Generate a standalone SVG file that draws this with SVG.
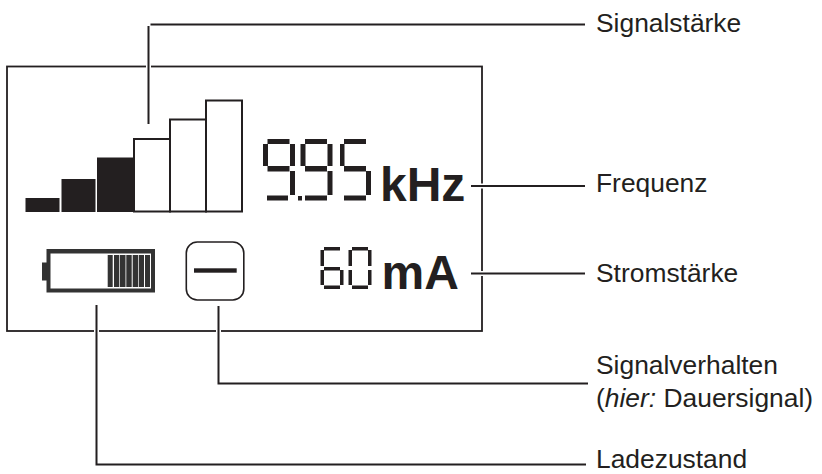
<svg xmlns="http://www.w3.org/2000/svg" width="822" height="474" viewBox="0 0 822 474">
<style>
.l{font-family:"Liberation Sans",Arial,sans-serif;font-size:26.4px;fill:#231f20}
.u{font-family:"Liberation Sans",Arial,sans-serif;font-size:48px;font-weight:bold;fill:#231f20}
.c{fill:none;stroke:#231f20;stroke-width:2}
.h{fill:none;stroke:#fff;stroke-width:5}
.b{fill:#fff;stroke:#231f20;stroke-width:2}
.k{fill:#231f20}
.s{fill:#333}
</style>
<rect width="822" height="474" fill="#fff"/>
<g id="display"><rect x="7" y="66.500" width="475" height="264.500" fill="none" stroke="#231f20" stroke-width="1.800"/></g>
<g id="connectors">
<path class="h" d="M148.500 60V72M96.500 325V337M218.500 325V337M478 186H486M478 273.500H486"/>
<path class="c" d="M150.500 24.500H585M148.500 26V124"/>
<path class="c" d="M471 186H585M471 273.500H585"/>
<path class="c" d="M218.500 306V383.500H588"/>
<path class="c" d="M96.500 305V464.500H586"/>
</g>
<g id="signal">
<rect class="k" x="25.500" y="198" width="34" height="14"/>
<rect class="k" x="61.500" y="179" width="34" height="33"/>
<rect class="k" x="97" y="157.500" width="37" height="54.500"/>
<rect class="b" x="134" y="139" width="36" height="72.500"/>
<rect class="b" x="170" y="119.500" width="36" height="92"/>
<rect class="b" x="206" y="100.500" width="36" height="111"/>
</g>
<g id="frequency" class="k">
<rect x="267.500" y="139" width="22" height="5"/><rect x="263" y="144" width="5" height="22"/><rect x="290" y="144" width="5" height="22"/><rect x="267.500" y="166" width="22" height="5.500"/><rect x="290" y="171" width="5" height="24"/><rect x="267" y="195.500" width="21" height="5"/>
<rect x="298" y="196" width="4" height="4.500"/>
<rect x="305" y="139" width="22" height="5"/><rect x="300.500" y="144" width="5" height="22"/><rect x="327.500" y="144" width="5" height="22"/><rect x="305" y="166" width="22" height="5.500"/><rect x="327.500" y="171" width="5" height="24"/><rect x="305" y="195.500" width="22" height="5"/>
<rect x="344" y="139" width="22" height="5"/><rect x="340" y="144" width="4.500" height="22"/><rect x="344" y="166" width="22" height="5.500"/><rect x="366" y="171" width="5" height="24"/><rect x="344" y="195.500" width="22" height="5"/>
<text class="u" x="380" y="200.500">kHz</text>
</g>
<g id="current" class="k">
<rect x="324" y="247" width="16" height="3.500"/><rect x="320.500" y="250" width="3.500" height="16"/><rect x="324" y="267" width="16" height="3.500"/><rect x="320.500" y="270" width="3.500" height="15"/><rect x="340" y="270" width="3.500" height="15"/><rect x="324" y="285.500" width="16" height="3.500"/>
<rect x="352" y="247" width="16" height="3.500"/><rect x="348.500" y="250" width="3.500" height="16"/><rect x="368" y="250" width="3.500" height="16"/><rect x="348.500" y="270" width="3.500" height="15"/><rect x="368" y="270" width="3.500" height="15"/><rect x="352" y="285.500" width="16" height="3.500"/>
<text class="u" x="381.500" y="289">mA</text>
</g>
<g id="battery">
<rect class="s" x="42" y="262.500" width="6" height="18"/>
<rect class="s" x="46.500" y="249" width="108.500" height="43.500"/>
<rect x="50.500" y="253.500" width="100.500" height="35" fill="#fff"/>
<rect class="s" x="107.700" y="255" width="5" height="32"/><rect class="s" x="114" y="255" width="5.300" height="32"/><rect class="s" x="120" y="255" width="5.500" height="32"/><rect class="s" x="126.300" y="255" width="5.400" height="32"/><rect class="s" x="132.700" y="255" width="5.300" height="32"/><rect class="s" x="138.700" y="255" width="5.300" height="32"/><rect class="s" x="145" y="255" width="5" height="32"/>
</g>
<g id="signalmode">
<rect x="186.300" y="242" width="57.500" height="58" rx="11" fill="#fff" stroke="#231f20" stroke-width="1.600"/>
<rect class="k" x="194" y="268.300" width="42.700" height="4.400"/>
</g>
<g id="labels">
<text class="l" x="596" y="32">Signalstärke</text>
<text class="l" x="596" y="192">Frequenz</text>
<text class="l" x="596" y="282">Stromstärke</text>
<text class="l" x="596" y="374">Signalverhalten</text>
<text class="l" x="596" y="407">(<tspan font-style="italic">hier:</tspan> Dauersignal)</text>
<text class="l" x="596" y="468.300">Ladezustand</text>
</g>
</svg>
